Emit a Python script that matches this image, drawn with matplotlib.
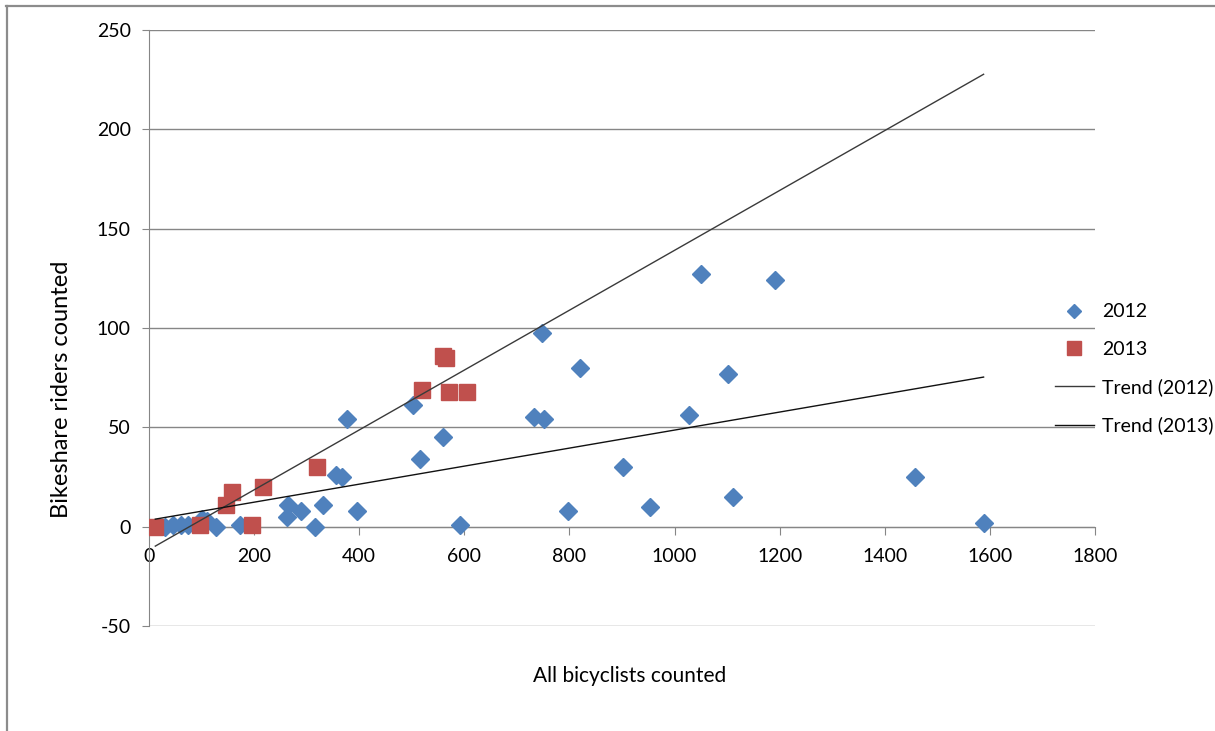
import numpy as np
import matplotlib.pyplot as plt
from matplotlib.lines import Line2D

plt.rcParams['font.family'] = ['Lato', 'DejaVu Sans']
plt.rcParams['axes.unicode_minus'] = False

# bicycle counts per site, by year
x_2012 = [30, 45, 60, 75, 100, 110, 128, 173, 262, 265, 289, 316, 332, 356, 368, 377, 396,
          502, 515, 559, 592, 732, 748, 751, 797, 821, 902, 953, 1027, 1051, 1102, 1112,
          1192, 1458, 1588]
y_2012 = [0, 1, 1, 1, 4, 3, 0, 1, 5, 11, 8, 0, 11, 26, 25, 54, 8,
          61, 34, 45, 1, 55, 97.5, 54, 8, 80, 30, 10, 56, 127, 77, 15,
          124, 25, 2]

x_2013 = [11, 97, 147, 157, 196, 216, 320, 520, 560, 566, 570, 605]
y_2013 = [0, 1, 11, 17.5, 1, 20, 30, 69, 86, 85, 68, 68]

# linear trends (slope, intercept) and the x span they are drawn over
trend_labels = ['Trend (2012)', 'Trend (2013)']
trend_slope = [0.1507, 0.04537]
trend_intercept = [-11.6, 3.25]
trend_x = [12, 1588]

x_ticks = list(range(0, 1801, 200))
y_ticks = list(range(-50, 251, 50))

BLUE = '#4F81BD'
RED = '#C0504D'
GRID = '#868686'

fig = plt.figure(figsize=(12.15, 7.31), dpi=100)
ax = fig.add_axes([149 / 1215, 1 - 626 / 731, (1095 - 149) / 1215, (626 - 30) / 731])

ax.set_xlim(0, 1800)
ax.set_ylim(-50, 250)
ax.set_xticks(x_ticks)
ax.set_yticks(y_ticks)

ax.yaxis.grid(True, color=GRID, lw=1)
ax.set_axisbelow(True)

for side in ['top', 'right']:
    ax.spines[side].set_visible(False)
ax.spines['bottom'].set_position(('data', 0))
ax.spines['bottom'].set_color(GRID)
ax.spines['left'].set_color(GRID)
ax.tick_params(axis='x', direction='out', length=6, color=GRID, labelsize=14, pad=9)
ax.tick_params(axis='y', direction='out', length=5, color=GRID, labelsize=14, pad=8)

ax.plot(x_2012, y_2012, ls='none', marker='D', ms=9.5, color=BLUE, mec=BLUE, label='2012', zorder=3)
ax.plot(x_2013, y_2013, ls='none', marker='s', ms=12, color=RED, mec=RED, label='2013', zorder=3)

tx = np.array(trend_x, dtype=float)
trend_colors = ['#3a3a3a', '#111111']
for lab, m, b, c in zip(trend_labels, trend_slope, trend_intercept, trend_colors):
    ax.plot(tx, m * tx + b, color=c, lw=1.0, label=lab, zorder=4)

leg = ax.legend(loc='center left', bbox_to_anchor=(1055 / 1215, 1 - 369 / 731),
                bbox_transform=fig.transFigure, frameon=False, fontsize=14,
                handlelength=2.0, handletextpad=0.4, labelspacing=1.05,
                borderpad=0, borderaxespad=0, markerscale=0.8)

fig.text(62 / 1215, 1 - 389 / 731, 'Bikeshare riders counted', rotation=90,
         ha='center', va='center', fontsize=17)
fig.text(630 / 1215, 1 - 676 / 731, 'All bicyclists counted', ha='center', va='center', fontsize=15)

# frame around the chart area
fig.add_artist(Line2D([6 / 1215, 1], [1 - 6 / 731, 1 - 6 / 731], color='#8c8c8c', lw=1.6,
                      transform=fig.transFigure))
fig.add_artist(Line2D([7 / 1215, 7 / 1215], [0, 1 - 6 / 731], color='#8c8c8c', lw=1.6,
                      transform=fig.transFigure))

fig.savefig('out.png', dpi=100)
